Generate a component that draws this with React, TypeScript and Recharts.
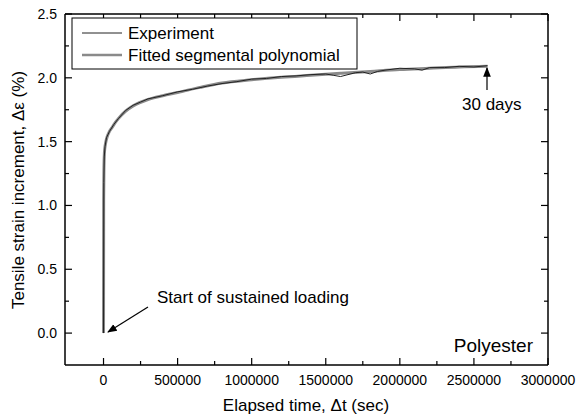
import React from 'react';
import { LineChart, Line, XAxis, YAxis } from 'recharts';

// elapsed time (sec) and tensile strain increment (%)
const fittedTime = [0, 1000, 3000, 6000, 10000, 16000, 25000, 40000, 60000, 80000, 100000, 150000, 200000, 300000, 400000, 500000, 650000, 800000, 1000000, 1200000, 1400000, 1600000, 1800000, 2000000, 2200000, 2400000, 2592000];
const fittedStrain = [0, 1.05, 1.3, 1.41, 1.46, 1.5, 1.54, 1.58, 1.615, 1.65, 1.68, 1.74, 1.78, 1.83, 1.86, 1.885, 1.925, 1.96, 1.985, 2.005, 2.02, 2.035, 2.05, 2.065, 2.075, 2.085, 2.09];

const expTime = [0, 2000, 5000, 10000, 20000, 40000, 70000, 100000, 150000, 200000, 250000, 300000, 400000, 500000, 600000, 700000, 800000, 900000, 1000000, 1100000, 1200000, 1300000, 1400000, 1500000, 1550000, 1600000, 1700000, 1750000, 1800000, 1850000, 1900000, 2000000, 2100000, 2150000, 2200000, 2300000, 2400000, 2500000, 2592000];
const expStrain = [0, 1.18, 1.38, 1.46, 1.53, 1.58, 1.635, 1.68, 1.745, 1.785, 1.81, 1.835, 1.86, 1.89, 1.91, 1.935, 1.955, 1.97, 1.99, 1.995, 2.01, 2.015, 2.025, 2.03, 2.02, 2.01, 2.04, 2.045, 2.03, 2.05, 2.06, 2.075, 2.07, 2.06, 2.08, 2.08, 2.09, 2.085, 2.095];

const xTicks = [0, 250000, 500000, 750000, 1000000, 1250000, 1500000, 1750000, 2000000, 2250000, 2500000, 2750000, 3000000];
const yTicks = [0, 0.25, 0.5, 0.75, 1, 1.25, 1.5, 1.75, 2, 2.25, 2.5];

const fitted = fittedTime.map((t, i) => ({ t, y: fittedStrain[i] }));
const experiment = expTime.map((t, i) => ({ t, y: expStrain[i] }));

const FONT = '"Liberation Sans", Arial, sans-serif';

const XTick = (props: any) => {
  const { x, y, payload, top } = props;
  const major = payload.value % 500000 === 0;
  const len = major ? 7 : 4;
  if (top) {
    return <line x1={x} x2={x} y1={y} y2={y + len} stroke="#000" strokeWidth={1.2} />;
  }
  return (
    <g>
      <line x1={x} x2={x} y1={y} y2={y - len} stroke="#000" strokeWidth={1.2} />
      {major && (
        <text x={x} y={y + 20} textAnchor="middle" fontSize={14} fontFamily={FONT} fill="#000">
          {payload.value}
        </text>
      )}
    </g>
  );
};

const YTick = (props: any) => {
  const { x, y, payload, right } = props;
  const major = Math.abs((payload.value * 2) % 1) < 1e-6;
  const len = major ? 7 : 4;
  if (right) {
    return <line x1={x} x2={x - len} y1={y} y2={y} stroke="#000" strokeWidth={1.2} />;
  }
  return (
    <g>
      <line x1={x} x2={x + len} y1={y} y2={y} stroke="#000" strokeWidth={1.2} />
      {major && (
        <text x={x - 8} y={y + 5} textAnchor="end" fontSize={14} fontFamily={FONT} fill="#000">
          {payload.value.toFixed(1)}
        </text>
      )}
    </g>
  );
};

export default function App() {
  return (
    <div style={{ position: 'absolute', left: 0, top: 0, width: 577, height: 418, background: '#fff' }}>
      <LineChart
        width={577}
        height={418}
        margin={{ top: 0, right: 0, left: 0, bottom: 0 }}
      >
        <XAxis
          xAxisId="bottom"
          dataKey="t"
          type="number"
          domain={[-260000, 3000000]}
          ticks={xTicks}
          interval={0}
          height={53}
          tickSize={0}
          tickMargin={0}
          tickLine={false}
          tick={(p: any) => <XTick {...p} />}
          axisLine={{ stroke: '#000', strokeWidth: 1.5 }}
          allowDataOverflow
        />
        <XAxis
          xAxisId="top"
          orientation="top"
          dataKey="t"
          type="number"
          domain={[-260000, 3000000]}
          ticks={xTicks}
          interval={0}
          height={14}
          tickSize={0}
          tickMargin={0}
          tickLine={false}
          tick={(p: any) => <XTick {...p} top />}
          axisLine={{ stroke: '#000', strokeWidth: 1.5 }}
          allowDataOverflow
        />
        <YAxis
          yAxisId="left"
          type="number"
          domain={[-0.25, 2.5]}
          ticks={yTicks}
          interval={0}
          width={65}
          tickSize={0}
          tickMargin={0}
          tickLine={false}
          tick={(p: any) => <YTick {...p} />}
          axisLine={{ stroke: '#000', strokeWidth: 1.5 }}
          allowDataOverflow
        />
        <YAxis
          yAxisId="right"
          orientation="right"
          type="number"
          domain={[-0.25, 2.5]}
          ticks={yTicks}
          interval={0}
          width={29}
          tickSize={0}
          tickMargin={0}
          tickLine={false}
          tick={(p: any) => <YTick {...p} right />}
          axisLine={{ stroke: '#000', strokeWidth: 1.5 }}
          allowDataOverflow
        />
        <Line
          xAxisId="top"
          yAxisId="right"
          data={fitted}
          dataKey="y"
          type="monotone"
          stroke="#8a8a8a"
          strokeWidth={3}
          dot={false}
          isAnimationActive={false}
        />
        <Line
          xAxisId="bottom"
          yAxisId="left"
          data={experiment}
          dataKey="y"
          type="linear"
          stroke="#222"
          strokeWidth={1}
          dot={false}
          isAnimationActive={false}
        />
      </LineChart>
      <svg
        width={577}
        height={418}
        style={{ position: 'absolute', left: 0, top: 0, pointerEvents: 'none' }}
        fontFamily={FONT}
      >
        <defs>
          <marker id="arr" viewBox="0 0 10 10" refX="9" refY="5" markerWidth="8" markerHeight="8" orient="auto-start-reverse">
            <path d="M0,1 L10,5 L0,9 z" fill="#000" />
          </marker>
        </defs>
        {/* legend */}
        <rect x={72} y={18} width={285} height={51} fill="#fff" stroke="#000" strokeWidth={1} />
        <line x1={82} x2={122} y1={33} y2={33} stroke="#222" strokeWidth={1} />
        <line x1={82} x2={122} y1={55} y2={55} stroke="#8a8a8a" strokeWidth={2.5} />
        <text x={128} y={39} fontSize={17} fill="#000">Experiment</text>
        <text x={128} y={61} fontSize={17} fill="#000">Fitted segmental polynomial</text>
        {/* annotations */}
        <text x={157} y={303} fontSize={17} fill="#000">Start of sustained loading</text>
        <line x1={148} y1={307} x2={108} y2={332} stroke="#000" strokeWidth={1.2} markerEnd="url(#arr)" />
        <text x={462} y={110} fontSize={17} fill="#000">30 days</text>
        <line x1={487} y1={90} x2={487} y2={68} stroke="#000" strokeWidth={1.2} markerEnd="url(#arr)" />
        <text x={533} y={352} fontSize={19} textAnchor="end" fill="#000">Polyester</text>
        {/* axis titles */}
        <text x={306} y={411} fontSize={17} textAnchor="middle" fill="#000">Elapsed time, Δt (sec)</text>
        <text x={24} y={190} fontSize={17} textAnchor="middle" fill="#000" transform="rotate(-90 24 190)">
          Tensile strain increment, Δε (%)
        </text>
      </svg>
    </div>
  );
}
